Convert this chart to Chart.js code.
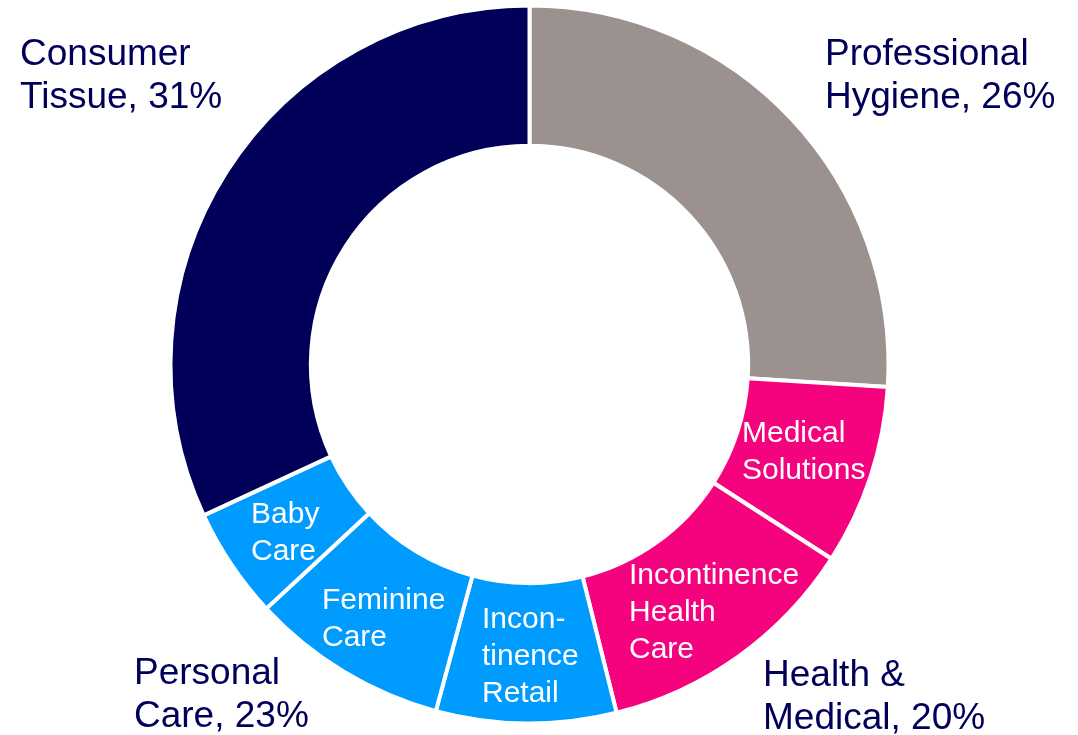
<!DOCTYPE html>
<html>
<head>
<meta charset="utf-8">
<script src="https://cdn.jsdelivr.net/npm/chart.js@4"></script>
<style>
    body { margin: 0; background: #fff; }
    #wrap { width: 1078px; height: 735px; }
</style>
</head>
<body>
<div id="wrap"><canvas id="segmentChart" width="1078" height="735"></canvas></div>
<script>
// segments, clockwise from 12 o'clock (share of sales, %)
const segments = ['Professional Hygiene', 'Medical Solutions', 'Incontinence Health Care',
    'Incontinence Retail', 'Feminine Care', 'Baby Care', 'Consumer Tissue'];
const shares = [26.0, 8.1, 12.0, 8.1, 8.9, 5.0, 31.9];
const segmentColors = ['#9b918e', '#f5037f', '#f5037f', '#009bff', '#009bff', '#009bff', '#000058'];

// business area labels outside the ring
const groupLabels = [
    { lines: ['Consumer', 'Tissue, 31%'], x: 20, y: 65 },
    { lines: ['Professional', 'Hygiene, 26%'], x: 825, y: 65 },
    { lines: ['Personal', 'Care, 23%'], x: 134, y: 684 },
    { lines: ['Health &', 'Medical, 20%'], x: 763, y: 686 }
];

// segment labels inside the ring
const innerLabels = [
    { lines: ['Medical', 'Solutions'], x: 742, y: 442 },
    { lines: ['Incontinence', 'Health', 'Care'], x: 629, y: 584 },
    { lines: ['Incon-', 'tinence', 'Retail'], x: 482, y: 628 },
    { lines: ['Feminine', 'Care'], x: 322, y: 609 },
    { lines: ['Baby', 'Care'], x: 251, y: 523 }
];

const labelPlugin = {
    id: 'labels',
    afterDraw(chart) {
        const ctx = chart.ctx;
        ctx.save();
        ctx.textAlign = 'left';
        ctx.textBaseline = 'alphabetic';

        ctx.fillStyle = '#000058';
        ctx.font = '37px "Liberation Sans", Arial, sans-serif';
        groupLabels.forEach(l => {
            l.lines.forEach((t, i) => ctx.fillText(t, l.x, l.y + i * 43));
        });

        ctx.fillStyle = '#ffffff';
        ctx.font = '30px "Liberation Sans", Arial, sans-serif';
        innerLabels.forEach(l => {
            l.lines.forEach((t, i) => ctx.fillText(t, l.x, l.y + i * 37));
        });
        ctx.restore();
    }
};

const ctx = document.getElementById('segmentChart').getContext('2d');

new Chart(ctx, {
    type: 'doughnut',
    data: {
        labels: segments,
        datasets: [{
            data: shares,
            backgroundColor: segmentColors,
            borderColor: '#ffffff',
            borderWidth: 4,
            hoverOffset: 0
        }]
    },
    options: {
        responsive: false,
        animation: false,
        cutout: '60.9%',
        layout: {
            padding: { left: 0, right: 19, top: 3.5, bottom: 9.5 }
        },
        plugins: {
            legend: { display: false },
            tooltip: { enabled: false }
        }
    },
    plugins: [labelPlugin]
});
</script>
</body>
</html>
